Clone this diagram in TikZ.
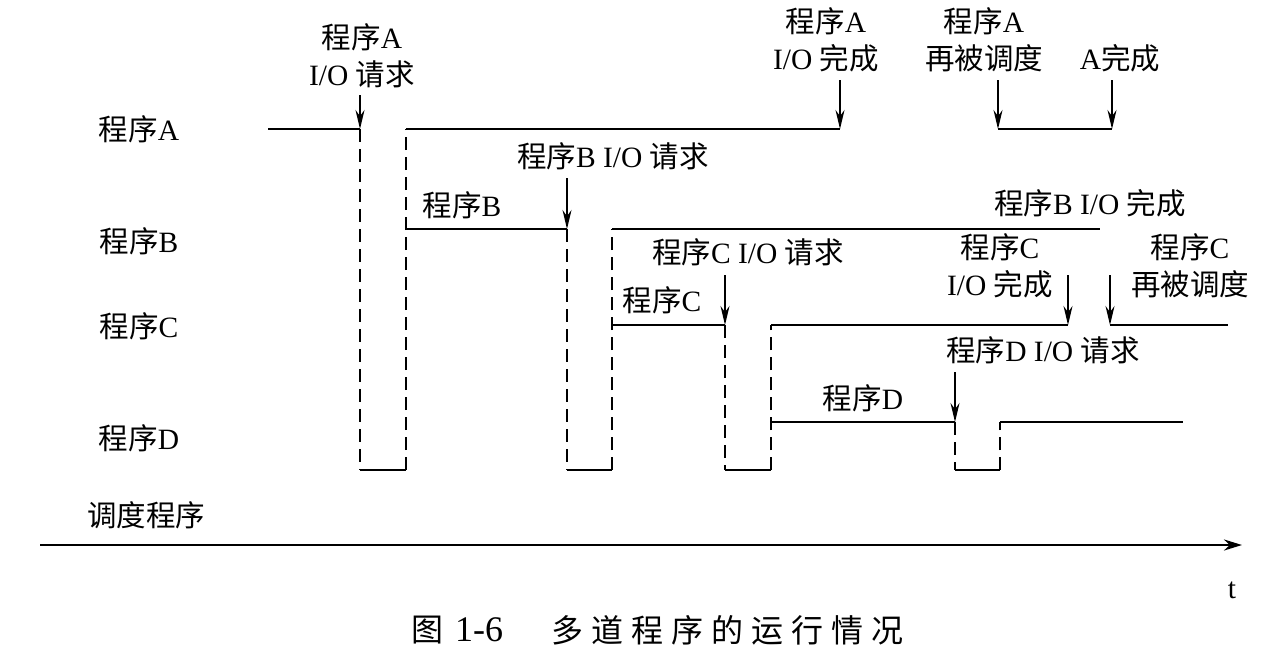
\documentclass[tikz,border=0pt]{standalone}
\usepackage{fontspec}
\setmainfont{Liberation Serif}
\newfontfamily\cjk{Noto Sans CJK SC}
\newfontfamily\cjkcap[LetterSpace=25]{Noto Sans CJK SC}
\newcommand\zh[1]{{\cjk #1}}
\usetikzlibrary{arrows.meta}
\begin{document}
\begin{tikzpicture}[x=1pt,y=-1pt,
  lbl/.style={font=\fontsize{29.5}{37}\selectfont, inner sep=0pt, align=center},
  captext/.style={font=\fontsize{32}{36}\selectfont, inner sep=0pt, anchor=west},
  ln/.style={line width=2.6pt},
  dsh/.style={line width=2.6pt, dash pattern=on 13pt off 7pt},
  arr/.style={line width=1.4pt, -{Stealth[length=19pt,width=9pt]}},
  axis/.style={line width=2.6pt, -{Stealth[length=18pt,width=11pt]}}]
\useasboundingbox (0,0) rectangle (1281,649);

% row labels
\node[lbl] (la) at (139,129) {\zh{程序}A};
\node[lbl] (lb) at (139,241) {\zh{程序}B};
\node[lbl] (lc) at (139,326) {\zh{程序}C};
\node[lbl] (ld) at (139,438) {\zh{程序}D};
\node[lbl] (ls) at (146,515) {\zh{调度程序}};

% coordinates
\coordinate (a0) at (268,129);
\coordinate (a1) at (360,129);
\coordinate (a1b) at (360,470);
\coordinate (a2b) at (406,470);
\coordinate (a2) at (406,129);
\coordinate (a3) at (840,129);
\coordinate (a4) at (998,129);
\coordinate (a5) at (1112,129);

\coordinate (b0) at (406,229);
\coordinate (b1) at (567,229);
\coordinate (b1b) at (567,470);
\coordinate (b2b) at (612,470);
\coordinate (b2) at (612,229);
\coordinate (b3) at (1100,229);

\coordinate (c0) at (612,325);
\coordinate (c1) at (725,325);
\coordinate (c1b) at (725,470);
\coordinate (c2b) at (771,470);
\coordinate (c2) at (771,325);
\coordinate (c3) at (1068,325);
\coordinate (c4) at (1110,325);
\coordinate (c5) at (1228,325);

\coordinate (d0) at (771,422);
\coordinate (d1) at (955,422);
\coordinate (d1b) at (955,470);
\coordinate (d2b) at (1000,470);
\coordinate (d2) at (1000,422);
\coordinate (d3) at (1183,422);

% solid run lines
\draw[ln] (a0) -- (a1);
\draw[ln] (a2) -- (a3);
\draw[ln] (a4) -- (a5);
\draw[ln] (b0) -- (b1);
\draw[ln] (b2) -- (b3);
\draw[ln] (c0) -- (c1);
\draw[ln] (c2) -- (c3);
\draw[ln] (c4) -- (c5);
\draw[ln] (d0) -- (d1);
\draw[ln] (d2) -- (d3);

% scheduler pulses
\draw[dsh] (a1) -- (a1b); \draw[ln] (a1b) -- (a2b); \draw[dsh] (a2b) -- (a2);
\draw[dsh] (b1) -- (b1b); \draw[ln] (b1b) -- (b2b); \draw[dsh] (b2b) -- (b2);
\draw[dsh] (c1) -- (c1b); \draw[ln] (c1b) -- (c2b); \draw[dsh] (c2b) -- (c2);
\draw[dsh] (d1) -- (d1b); \draw[ln] (d1b) -- (d2b); \draw[dsh] (d2b) -- (d2);

% event labels
\node[lbl] (ta1) at (362,56) {\zh{程序}A\\I/O \zh{请求}};
\node[lbl] (ta3) at (826,40) {\zh{程序}A\\I/O \zh{完成}};
\node[lbl] (ta4) at (984,40) {\zh{程序}A\\\zh{再被调度}};
\node[lbl] (ta5) at (1120,58) {A\zh{完成}};
\node[lbl] (tb1) at (613,156) {\zh{程序}B I/O \zh{请求}};
\node[lbl] (tb0) at (462,205) {\zh{程序}B};
\node[lbl] (tb3) at (1090,203) {\zh{程序}B I/O \zh{完成}};
\node[lbl] (tc1) at (748,252) {\zh{程序}C I/O \zh{请求}};
\node[lbl] (tc0) at (662,300) {\zh{程序}C};
\node[lbl] (tc3) at (1000,266) {\zh{程序}C\\I/O \zh{完成}};
\node[lbl] (tc4) at (1190,266) {\zh{程序}C\\\zh{再被调度}};
\node[lbl] (td1) at (1043,350) {\zh{程序}D I/O \zh{请求}};
\node[lbl] (td0) at (863,398) {\zh{程序}D};

% event arrows
\coordinate (pa1) at (360,95);
\coordinate (pa3) at (840,80);
\coordinate (pa4) at (998,80);
\coordinate (pa5) at (1112,80);
\coordinate (pb1) at (567,178);
\coordinate (pc1) at (725,275);
\coordinate (pc3) at (1068,275);
\coordinate (pc4) at (1110,275);
\coordinate (pd1) at (955,372);
\draw[arr] (pa1) -- (a1);
\draw[arr] (pa3) -- (a3);
\draw[arr] (pa4) -- (a4);
\draw[arr] (pa5) -- (a5);
\draw[arr] (pb1) -- (b1);
\draw[arr] (pc1) -- (c1);
\draw[arr] (pc3) -- (c3);
\draw[arr] (pc4) -- (c4);
\draw[arr] (pd1) -- (d1);

% time axis
\coordinate (t0) at (40,545);
\coordinate (t1) at (1242,545);
\draw[axis] (t0) -- (t1);
\node[lbl] (tt) at (1232,590) {t};

% caption
\node[captext] (cap1) at (411,630) {\zh{图}\hspace{12pt}{\fontsize{36}{36}\selectfont 1-6}};
\node[captext] (cap2) at (551,630) {\cjkcap 多道程序的运行情况};
\end{tikzpicture}
\end{document}
